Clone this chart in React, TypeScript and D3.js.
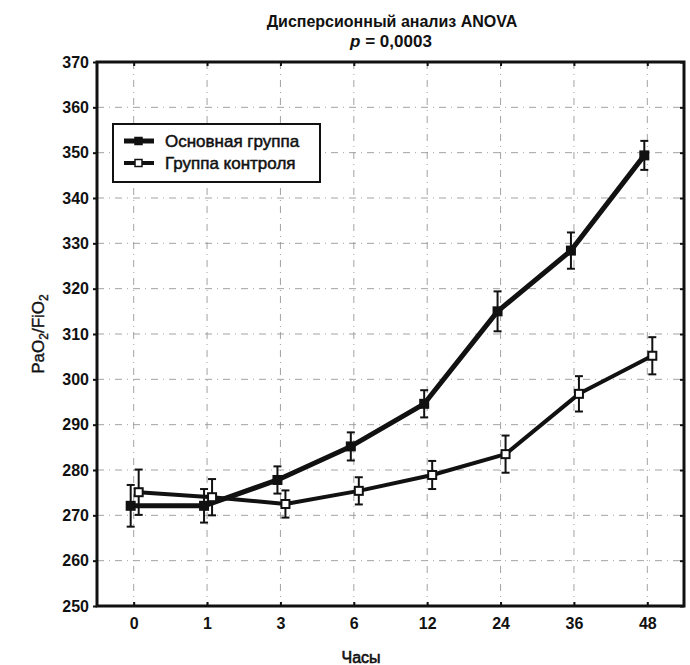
import React, { useEffect, useRef } from 'react';
import * as d3 from 'd3';

// hours after start (categorical axis)
const hours = ['0', '1', '3', '6', '12', '24', '36', '48'];

// main group: means and error (+/-)
const mainMean = [272.1, 272.1, 277.8, 285.2, 294.6, 315.0, 328.4, 349.4];
const mainErr = [4.6, 3.7, 3.0, 3.1, 3.0, 4.4, 4.0, 3.2];

// control group
const ctrlMean = [275.1, 274.0, 272.5, 275.4, 278.9, 283.5, 296.8, 305.2];
const ctrlErr = [5.0, 4.0, 3.0, 3.0, 3.1, 4.1, 3.9, 4.1];

const yTicks = [250, 260, 270, 280, 290, 300, 310, 320, 330, 340, 350, 360, 370];
const legendLabels = ['Основная группа', 'Группа контроля'];

const W = 690;
const H = 665;
const margin = { top: 62, right: 6, bottom: 59, left: 97 };
const FONT = '"Liberation Sans", Arial, sans-serif';

const App = () => {
  const node = useRef<SVGSVGElement>(null);

  useEffect(() => {
    document.body.style.margin = '0';
    const svg = d3.select(node.current);
    svg.selectAll('*').remove();

    const innerW = W - margin.left - margin.right;
    const innerH = H - margin.top - margin.bottom;

    const x = d3.scalePoint<string>().domain(hours).range([0, innerW]).padding(0.5);
    const y = d3.scaleLinear().domain([250, 370]).range([innerH, 0]);

    const fig = svg.append('g').attr('transform', `translate(${margin.left},${margin.top})`);

    // grid
    fig.append('g').selectAll('line')
      .data(yTicks.slice(1, -1))
      .enter().append('line')
      .attr('x1', 0).attr('x2', innerW)
      .attr('y1', (d) => y(d)).attr('y2', (d) => y(d))
      .attr('stroke', '#999').attr('stroke-width', 0.9)
      .attr('stroke-dasharray', '7,5,1,5');
    fig.append('g').selectAll('line')
      .data(hours)
      .enter().append('line')
      .attr('x1', (d) => x(d)!).attr('x2', (d) => x(d)!)
      .attr('y1', 0).attr('y2', innerH)
      .attr('stroke', '#999').attr('stroke-width', 0.9)
      .attr('stroke-dasharray', '7,5,1,5');

    // axes
    const yAxis = fig.append('g').call(d3.axisLeft(y).tickValues(yTicks).tickSize(4).tickPadding(4));
    const yRight = fig.append('g').attr('transform', `translate(${innerW},0)`)
      .call(d3.axisLeft(y).tickValues(yTicks).tickSize(4).tickFormat(() => ''));
    const xAxis = fig.append('g').attr('transform', `translate(0,${innerH})`)
      .call(d3.axisBottom(x).tickSize(-4).tickPadding(12));
    const xTop = fig.append('g')
      .call(d3.axisBottom(x).tickSize(4).tickFormat(() => ''));

    [yAxis, yRight, xAxis, xTop].forEach((a) => {
      a.select('.domain').remove();
      a.selectAll('line').attr('stroke', '#111').attr('stroke-width', 2);
      a.selectAll('text').attr('font-family', FONT).attr('font-size', 16)
        .attr('font-weight', 'bold').attr('fill', '#111');
    });

    fig.append('rect')
      .attr('width', innerW).attr('height', innerH)
      .attr('fill', 'none').attr('stroke', '#111').attr('stroke-width', 3);

    const series = [
      { mean: mainMean, err: mainErr, dx: -3, fill: '#111', lw: 5 },
      { mean: ctrlMean, err: ctrlErr, dx: 5, fill: '#fff', lw: 4 },
    ];

    const line = d3.line<number>()
      .x((d, i) => x(hours[i])!)
      .y((d) => y(d));

    series.forEach((s) => {
      const g = fig.append('g');
      g.append('path')
        .datum(s.mean)
        .attr('transform', `translate(${s.dx},0)`)
        .attr('d', line)
        .attr('fill', 'none')
        .attr('stroke', '#111')
        .attr('stroke-width', s.lw)
        .attr('stroke-linejoin', 'round');

      const eb = g.selectAll('.eb')
        .data(s.mean)
        .enter().append('g')
        .attr('transform', (d, i) => `translate(${x(hours[i])! + s.dx},0)`);
      eb.append('line')
        .attr('y1', (d, i) => y(d - s.err[i])).attr('y2', (d, i) => y(d + s.err[i]))
        .attr('stroke', '#111').attr('stroke-width', 2);
      eb.append('line')
        .attr('x1', -4).attr('x2', 4)
        .attr('y1', (d, i) => y(d + s.err[i])).attr('y2', (d, i) => y(d + s.err[i]))
        .attr('stroke', '#111').attr('stroke-width', 2);
      eb.append('line')
        .attr('x1', -4).attr('x2', 4)
        .attr('y1', (d, i) => y(d - s.err[i])).attr('y2', (d, i) => y(d - s.err[i]))
        .attr('stroke', '#111').attr('stroke-width', 2);
      eb.append('rect')
        .attr('x', -4).attr('y', (d) => y(d) - 4)
        .attr('width', 8).attr('height', 8)
        .attr('fill', s.fill).attr('stroke', '#111').attr('stroke-width', 2);
    });

    // legend
    const leg = fig.append('g').attr('transform', 'translate(16,62)');
    leg.append('rect')
      .attr('width', 207).attr('height', 58)
      .attr('fill', '#fff').attr('stroke', '#111').attr('stroke-width', 2);
    legendLabels.forEach((lab, i) => {
      const ly = 17 + i * 22;
      leg.append('line')
        .attr('x1', 11).attr('x2', 41).attr('y1', ly).attr('y2', ly)
        .attr('stroke', '#111').attr('stroke-width', series[i].lw);
      leg.append('rect')
        .attr('x', 22).attr('y', ly - 3.5).attr('width', 7).attr('height', 7)
        .attr('fill', series[i].fill).attr('stroke', '#111').attr('stroke-width', 1.5);
      leg.append('text')
        .attr('x', 52).attr('y', ly + 6)
        .attr('font-family', FONT).attr('font-size', 17).attr('fill', '#111')
        .attr('stroke', '#111').attr('stroke-width', 0.5)
        .text(lab);
    });

    // titles
    svg.append('text')
      .attr('x', 392).attr('y', 27)
      .attr('text-anchor', 'middle')
      .attr('font-family', FONT).attr('font-size', 16).attr('font-weight', 'bold').attr('fill', '#111')
      .text('Дисперсионный анализ ANOVA');
    const pt = svg.append('text')
      .attr('x', 391).attr('y', 47)
      .attr('text-anchor', 'middle')
      .attr('font-family', FONT).attr('font-size', 17).attr('font-weight', 'bold').attr('fill', '#111');
    pt.append('tspan').attr('font-style', 'italic').text('p');
    pt.append('tspan').text(' = 0,0003');

    svg.append('text')
      .attr('x', 361).attr('y', 663)
      .attr('text-anchor', 'middle')
      .attr('font-family', FONT).attr('font-size', 16).attr('fill', '#111')
      .attr('stroke', '#111').attr('stroke-width', 0.6)
      .text('Часы');

    const yl = svg.append('text')
      .attr('transform', `translate(44,${margin.top + innerH / 2}) rotate(-90)`)
      .attr('text-anchor', 'middle')
      .attr('font-family', FONT).attr('font-size', 17).attr('fill', '#111')
      .attr('stroke', '#111').attr('stroke-width', 0.4);
    yl.append('tspan').text('PaO');
    yl.append('tspan').attr('font-size', 12).attr('dy', 4).text('2');
    yl.append('tspan').attr('dy', -4).text('/FiO');
    yl.append('tspan').attr('font-size', 12).attr('dy', 4).text('2');
  }, []);

  return <svg ref={node} width={W} height={H} style={{ display: 'block', background: '#fff' }} />;
};

export default App;
